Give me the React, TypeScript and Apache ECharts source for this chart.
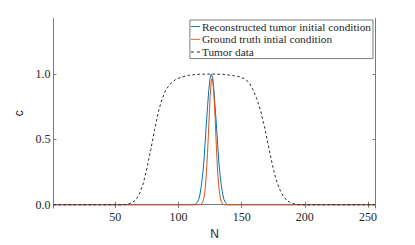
import React, { useEffect, useRef } from "react";
import * as echarts from "echarts";

// Reconstructed tumor initial condition (peak region), zero elsewhere
const bluePeakN = [113, 114, 115, 116, 117, 118, 119, 120, 121, 122, 123, 124, 125, 126, 127, 128, 129, 130, 131, 132, 133, 134, 135, 136, 137, 138, 139];
const bluePeakC = [0, 0.01, 0.02, 0.04, 0.08, 0.14, 0.22, 0.32, 0.46, 0.61, 0.75, 0.88, 0.97, 1.0, 0.97, 0.88, 0.75, 0.61, 0.46, 0.32, 0.22, 0.14, 0.08, 0.04, 0.02, 0.01, 0];

// Ground truth initial condition (peak region)
const orangePeakN = [117, 118, 119, 120, 121, 122, 123, 124, 125, 126, 127, 128, 129, 130, 131, 132, 133, 134, 135, 136];
const orangePeakC = [0, 0.006, 0.018, 0.047, 0.11, 0.23, 0.4, 0.61, 0.82, 0.955, 0.97, 0.85, 0.66, 0.44, 0.25, 0.13, 0.057, 0.022, 0.007, 0];

// Tumor data
const tumorN = [1, 56, 60, 63, 66, 69, 72, 75, 78, 81, 84, 87, 90, 94, 98, 102, 108, 115, 125, 135, 142, 148, 152, 156, 159, 162, 165, 168, 171, 174, 177, 180, 183, 186, 189, 192, 196, 256];
const tumorC = [0, 0, 0.005, 0.015, 0.035, 0.08, 0.16, 0.28, 0.42, 0.57, 0.71, 0.81, 0.88, 0.93, 0.96, 0.975, 0.99, 0.998, 1.0, 0.998, 0.99, 0.98, 0.965, 0.935, 0.88, 0.81, 0.72, 0.6, 0.46, 0.32, 0.2, 0.12, 0.065, 0.03, 0.015, 0.006, 0, 0];

const xTicks = [50, 100, 150, 200, 250];
const yTicks = [0, 0.5, 1.0];
const N_MIN = 1;
const N_MAX = 256;

const seriesNames = [
  "Reconstructed tumor initial condition",
  "Ground truth intial condition",
  "Tumor data",
];

function withBaseline(ns: number[], cs: number[]) {
  const pts: [number, number][] = [[N_MIN, 0]];
  ns.forEach((n, i) => pts.push([n, cs[i]]));
  pts.push([N_MAX, 0]);
  return pts;
}

const SERIF = "'Liberation Serif', 'DejaVu Serif', serif";
const SANS = "'Liberation Sans', Arial, sans-serif";
const AXIS = "#7a7a7a";
const SOLID_ICON = "path://M0,0h10v1h-10z";
const DASH_ICON = "path://M0,0h3v1h-3z M6,0h3v1h-3z";

export default function App() {
  const ref = useRef<HTMLDivElement>(null);
  useEffect(() => {
    if (!ref.current) return;
    const chart = echarts.init(ref.current, undefined, { renderer: "svg" });
    const axisCommonX = {
      type: "value",
      min: N_MIN,
      max: N_MAX,
      axisLine: { show: true, lineStyle: { color: AXIS, width: 1 } },
      splitLine: { show: false },
    };
    const axisCommonY = {
      type: "value",
      min: -0.025,
      max: 1.425,
      axisLine: { show: true, lineStyle: { color: AXIS, width: 1 } },
      splitLine: { show: false },
    };
    chart.setOption({
      animation: false,
      backgroundColor: "#ffffff",
      grid: { left: 53.5, right: 39.5, top: 18.5, bottom: 31, containLabel: false },
      xAxis: [
        {
          ...axisCommonX,
          position: "bottom",
          name: "N",
          nameLocation: "middle",
          nameGap: 20,
          nameTextStyle: { fontFamily: SANS, fontSize: 12, color: "#262626" },
          axisTick: { show: true, inside: true, length: 3, customValues: xTicks, lineStyle: { color: AXIS } },
          axisLabel: { show: true, customValues: xTicks, fontFamily: SERIF, fontSize: 12, color: "#262626", margin: 3 },
        },
        {
          ...axisCommonX,
          position: "top",
          axisTick: { show: true, inside: true, length: 3, customValues: xTicks, lineStyle: { color: AXIS } },
          axisLabel: { show: false },
        },
      ],
      yAxis: [
        {
          ...axisCommonY,
          position: "left",
          name: "c",
          nameLocation: "middle",
          nameGap: 15,
          nameRotate: 90,
          nameTextStyle: { fontFamily: SANS, fontSize: 12, color: "#262626" },
          axisTick: { show: true, inside: true, length: 3, customValues: yTicks, lineStyle: { color: AXIS } },
          axisLabel: {
            show: true,
            customValues: yTicks,
            fontFamily: SERIF,
            fontSize: 12,
            color: "#262626",
            margin: 3,
            formatter: (v: number) => v.toFixed(1),
          },
        },
        {
          ...axisCommonY,
          position: "right",
          axisTick: { show: true, inside: true, length: 3, customValues: yTicks, lineStyle: { color: AXIS } },
          axisLabel: { show: false },
        },
      ],
      legend: {
        orient: "vertical",
        right: 42,
        top: 20,
        align: "left",
        itemWidth: 9,
        itemHeight: 11,
        itemGap: 1.8,
        padding: [1, 2, 1, 1],
        backgroundColor: "#ffffff",
        borderColor: AXIS,
        borderWidth: 1,
        borderRadius: 0,
        textStyle: { fontFamily: SERIF, fontSize: 11.3, color: "#262626", padding: [0, 0, 0, -3] },
        data: [
          { name: seriesNames[0], icon: SOLID_ICON },
          { name: seriesNames[1], icon: SOLID_ICON },
          { name: seriesNames[2], icon: DASH_ICON },
        ],
      },
      series: [
        {
          name: seriesNames[0],
          type: "line",
          data: withBaseline(bluePeakN, bluePeakC),
          showSymbol: false,
          symbol: "none",
          lineStyle: { color: "#0072BD", width: 1 },
          itemStyle: { color: "#0072BD" },
          z: 2,
        },
        {
          name: seriesNames[1],
          type: "line",
          data: withBaseline(orangePeakN, orangePeakC),
          showSymbol: false,
          symbol: "none",
          lineStyle: { color: "#D95319", width: 1 },
          itemStyle: { color: "#D95319" },
          z: 3,
        },
        {
          name: seriesNames[2],
          type: "line",
          data: tumorN.map((n, i) => [n, tumorC[i]]),
          showSymbol: false,
          symbol: "none",
          lineStyle: { color: "#262626", width: 1, type: [2.5, 2.5] },
          itemStyle: { color: "#262626" },
          z: 4,
        },
      ],
    });
    return () => chart.dispose();
  }, []);
  return <div ref={ref} style={{ width: 415, height: 245, position: "absolute", left: 0, top: 0 }} />;
}
